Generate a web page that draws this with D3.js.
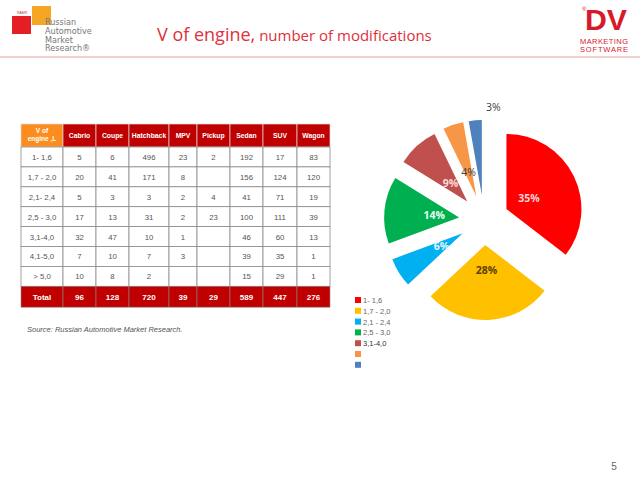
<!DOCTYPE html>
<html>
<head>
<meta charset="utf-8">
<script src="https://cdn.jsdelivr.net/npm/d3@7"></script>
<style>
  body { margin: 0; background: #fff; }
  svg { display: block; font-family: "Liberation Sans", Arial, sans-serif; }
</style>
</head>
<body>
<svg width="640" height="480"></svg>
<script>
// table data
const bodyTypes = ["Cabrio", "Coupe", "Hatchback", "MPV", "Pickup", "Sedan", "SUV", "Wagon"];
const engineRanges = ["1- 1,6", "1,7 - 2,0", "2,1- 2,4", "2,5 - 3,0", "3,1-4,0", "4,1-5,0", "> 5,0"];
const cabrio    = [5, 20, 5, 17, 32, 7, 10];
const coupe     = [6, 41, 3, 13, 47, 10, 8];
const hatchback = [496, 171, 3, 31, 10, 7, 2];
const mpv       = [23, 8, 2, 2, 1, 3, null];
const pickup    = [2, null, 4, 23, null, null, null];
const sedan     = [192, 156, 41, 100, 46, 39, 15];
const suv       = [17, 124, 71, 111, 60, 35, 29];
const wagon     = [83, 120, 19, 39, 13, 1, 1];
const totals    = [96, 128, 720, 39, 29, 589, 447, 276];

// pie: modifications by engine volume (row totals of the table)
const pieShares = [824, 640, 148, 336, 209, 102, 65];
const legendLabels = ["1- 1,6", "1,7 - 2,0", "2,1 - 2,4", "2,5 - 3,0", "3,1-4,0", "", ""];
const pieColors = ["#ff0000", "#ffc000", "#00b0f0", "#00b050", "#c0504d", "#f79646", "#4f81bd"];
const labelColors = ["#fbd4d4", "#5b4100", "#e6f6ff", "#eafff2", "#fadada", "#404040", "#404040"];

const seriesByType = [cabrio, coupe, hatchback, mpv, pickup, sedan, suv, wagon];

const svg = d3.select("svg");

// ---- header decorations ----
svg.append("rect").attr("x", 32).attr("y", 6).attr("width", 19).attr("height", 19).attr("fill", "#f5a623");
svg.append("rect").attr("x", 12).attr("y", 16).attr("width", 19).attr("height", 18).attr("fill", "#e31e24");
svg.append("text").attr("x", 17).attr("y", 14).attr("font-size", 3.5).attr("fill", "#c33").text("RAMR");
["Russian", "Automotive", "Market", "Research®"].forEach((t, i) => {
  svg.append("text")
    .attr("x", 45).attr("y", 25 + i * 8.8)
    .attr("font-family", "'Liberation Sans Narrow', 'DejaVu Sans Condensed', sans-serif")
    .attr("font-size", 9).attr("fill", "#777")
    .text(t);
});

svg.append("line")
  .attr("x1", 0).attr("x2", 640).attr("y1", 57).attr("y2", 57)
  .attr("stroke", "#e3a0a4").attr("stroke-width", 1);

const title = svg.append("text")
  .attr("x", 157).attr("y", 41)
  .attr("font-family", "'Open Sans', sans-serif")
  .attr("fill", "#e0303c");
title.append("tspan").attr("font-size", 18).text("V of engine,");
title.append("tspan").attr("font-size", 15).text(" number of modifications");

// DV logo
svg.append("text").attr("x", 606).attr("y", 30).attr("text-anchor", "middle")
  .attr("font-size", 30).attr("font-weight", "bold").attr("fill", "#d7192b")
  .attr("textLength", 42).attr("lengthAdjust", "spacingAndGlyphs").text("DV");
svg.append("text").attr("x", 582).attr("y", 11).attr("font-size", 6).attr("fill", "#d7192b").text("®");
svg.append("text").attr("x", 604).attr("y", 44).attr("text-anchor", "middle")
  .attr("font-size", 7.5).attr("fill", "#d7192b").attr("textLength", 48).text("MARKETING");
svg.append("text").attr("x", 604).attr("y", 52).attr("text-anchor", "middle")
  .attr("font-size", 7.5).attr("fill", "#d7192b").attr("textLength", 48).text("SOFTWARE");

// ---- table ----
const colEdges = [21, 63, 96, 129, 169, 197, 230, 263, 297, 330];
const headerTop = 124, headerH = 23, rowH = 19.9;
const yRow = d3.scaleLinear().domain([0, 8]).range([headerTop + headerH, headerTop + headerH + 8 * rowH]);

const table = svg.append("g");

// header
table.selectAll(".hcell")
  .data(["V of engine ,L"].concat(bodyTypes))
  .join("rect")
  .attr("x", (d, i) => colEdges[i]).attr("y", headerTop)
  .attr("width", (d, i) => colEdges[i + 1] - colEdges[i]).attr("height", headerH)
  .attr("fill", (d, i) => i === 0 ? "#fb8c1e" : "#c00000")
  .attr("stroke", "#ddd").attr("stroke-width", 0.7);

table.selectAll(".htext")
  .data(bodyTypes)
  .join("text")
  .attr("x", (d, i) => (colEdges[i + 1] + colEdges[i + 2]) / 2)
  .attr("y", headerTop + headerH / 2 + 2.5)
  .attr("text-anchor", "middle").attr("font-size", 6.8).attr("font-weight", "bold")
  .attr("fill", "#fff").text(d => d);

["V of", "engine ,L"].forEach((t, i) => {
  table.append("text")
    .attr("x", (colEdges[0] + colEdges[1]) / 2).attr("y", headerTop + 9 + i * 8)
    .attr("text-anchor", "middle").attr("font-size", 6.5).attr("font-weight", "bold")
    .attr("fill", "#fff").text(t);
});

// body rows
const rows = engineRanges.map((r, ri) => [r].concat(seriesByType.map(s => s[ri])));
rows.forEach((row, ri) => {
  row.forEach((v, ci) => {
    table.append("rect")
      .attr("x", colEdges[ci]).attr("y", yRow(ri))
      .attr("width", colEdges[ci + 1] - colEdges[ci]).attr("height", rowH)
      .attr("fill", "#fff").attr("stroke", "#8a8a8a").attr("stroke-width", 0.8);
    if (v !== null) {
      table.append("text")
        .attr("x", (colEdges[ci] + colEdges[ci + 1]) / 2).attr("y", yRow(ri) + rowH / 2 + 3)
        .attr("text-anchor", "middle").attr("font-size", 7.8).attr("fill", "#555")
        .text(v);
    }
  });
});

// total row
const totalRow = ["Total"].concat(totals);
totalRow.forEach((v, ci) => {
  table.append("rect")
    .attr("x", colEdges[ci]).attr("y", yRow(7))
    .attr("width", colEdges[ci + 1] - colEdges[ci]).attr("height", rowH + 1)
    .attr("fill", "#c00000").attr("stroke", "#8a8a8a").attr("stroke-width", 0.6);
  table.append("text")
    .attr("x", (colEdges[ci] + colEdges[ci + 1]) / 2).attr("y", yRow(7) + rowH / 2 + 3.5)
    .attr("text-anchor", "middle").attr("font-size", 8).attr("font-weight", "bold")
    .attr("fill", "#fff").text(v);
});

svg.append("text")
  .attr("x", 27).attr("y", 332)
  .attr("font-size", 7.5).attr("font-style", "italic").attr("fill", "#555")
  .text("Source: Russian Automotive  Market Research.");

// ---- exploded pie ----
const cx = 484, cy = 220, radius = 75, explode = 25;
const pie = d3.pie().sort(null).value(d => d);
const arc = d3.arc().innerRadius(0).outerRadius(radius);
const total = d3.sum(pieShares);
const arcs = pie(pieShares);

const pieG = svg.append("g").attr("transform", `translate(${cx},${cy})`);

const mid = d => (d.startAngle + d.endAngle) / 2;

pieG.selectAll("path")
  .data(arcs)
  .join("path")
  .attr("d", arc)
  .attr("fill", (d, i) => pieColors[i])
  .attr("transform", d => `translate(${explode * Math.sin(mid(d))},${-explode * Math.cos(mid(d))})`);

// small last slice gets its label outside
const labelR = i => i === 6 ? 113 : 50;
const labelA = (d, i) => i === 6 ? mid(d) + 0.17 : mid(d);

pieG.selectAll(".lbl")
  .data(arcs)
  .join("text")
  .attr("class", "lbl")
  .attr("x", (d, i) => labelR(i) * Math.sin(labelA(d, i)))
  .attr("y", (d, i) => -labelR(i) * Math.cos(labelA(d, i)) + 4)
  .attr("text-anchor", "middle")
  .attr("font-family", "'Open Sans', sans-serif")
  .attr("font-size", 10.5)
  .attr("font-weight", (d, i) => i >= 5 ? "normal" : "bold")
  .attr("fill", (d, i) => labelColors[i])
  .text(d => Math.round(d.value / total * 100) + "%");

// legend
const legend = svg.append("g").attr("transform", "translate(355,300)");
const ly = d3.scaleLinear().domain([0, 1]).range([0, 10.8]);
legend.selectAll("rect")
  .data(pieColors)
  .join("rect")
  .attr("x", 0).attr("y", (d, i) => ly(i) - 3)
  .attr("width", 6).attr("height", 6)
  .attr("fill", d => d);
legend.selectAll("text")
  .data(legendLabels)
  .join("text")
  .attr("x", 8).attr("y", (d, i) => ly(i) + 3)
  .attr("font-size", 7.5).attr("fill", (d, i) => i === 4 ? "#333" : "#666")
  .text(d => d);

// page number
svg.append("text").attr("x", 614).attr("y", 470).attr("text-anchor", "middle")
  .attr("font-size", 10).attr("fill", "#666").text("5");
</script>
</body>
</html>
